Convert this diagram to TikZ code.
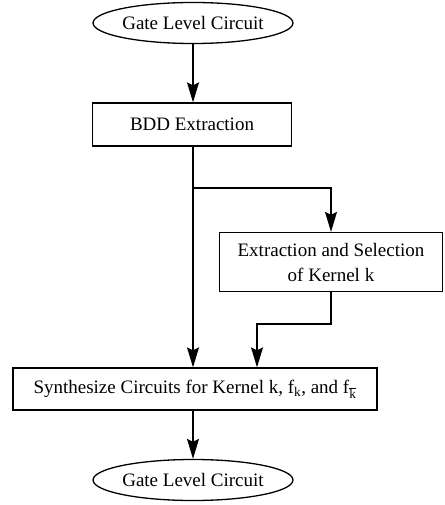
\documentclass[tikz,border=0pt]{standalone}
\usepackage{fontspec}
\setmainfont{Liberation Serif}
\usetikzlibrary{shapes.geometric,arrows.meta}

\begin{document}
\begin{tikzpicture}[x=1pt,y=-1pt,line width=1.3pt,
  font=\fontsize{19}{25}\selectfont,
  >={Stealth[length=20pt,width=12pt,inset=3pt]},
  terminal/.style={draw,ellipse,inner sep=0pt,minimum width=194pt,minimum height=41pt},
  stepbox/.style={draw,rectangle,inner sep=0pt,align=center}]
\useasboundingbox (0,0) rectangle (444,505);

\node (gin) at (193,23) [terminal] {Gate Level Circuit};
\node (bdd) at (192,124.5) [stepbox,minimum width=199pt,minimum height=43pt] {BDD Extraction};
\node (ker) at (331,262) [stepbox,minimum width=223pt,minimum height=59pt] {Extraction and Selection\\of Kernel k};
\node (syn) at (195,389) [stepbox,minimum width=364pt,minimum height=42pt]
  {Synthesize Circuits for Kernel k, f\textsubscript{k}, and f\textsubscript{$\overline{\hbox{k}}$}};
\node (gout) at (193,480) [terminal] {Gate Level Circuit};

\coordinate (split) at (193,188);
\coordinate (join) at (257,324);

\draw [->] (gin.south) -- (gin.south |- bdd.north);
\draw [->] (bdd.south -| gin.south) -- (gin.south |- syn.north);
\draw [->] (split) -| (ker.north);
\draw [->] (ker.south) |- (join) -- (join |- syn.north);
\draw [->] (syn.south -| gin.south) -- (gout.north);
\end{tikzpicture}
\end{document}
